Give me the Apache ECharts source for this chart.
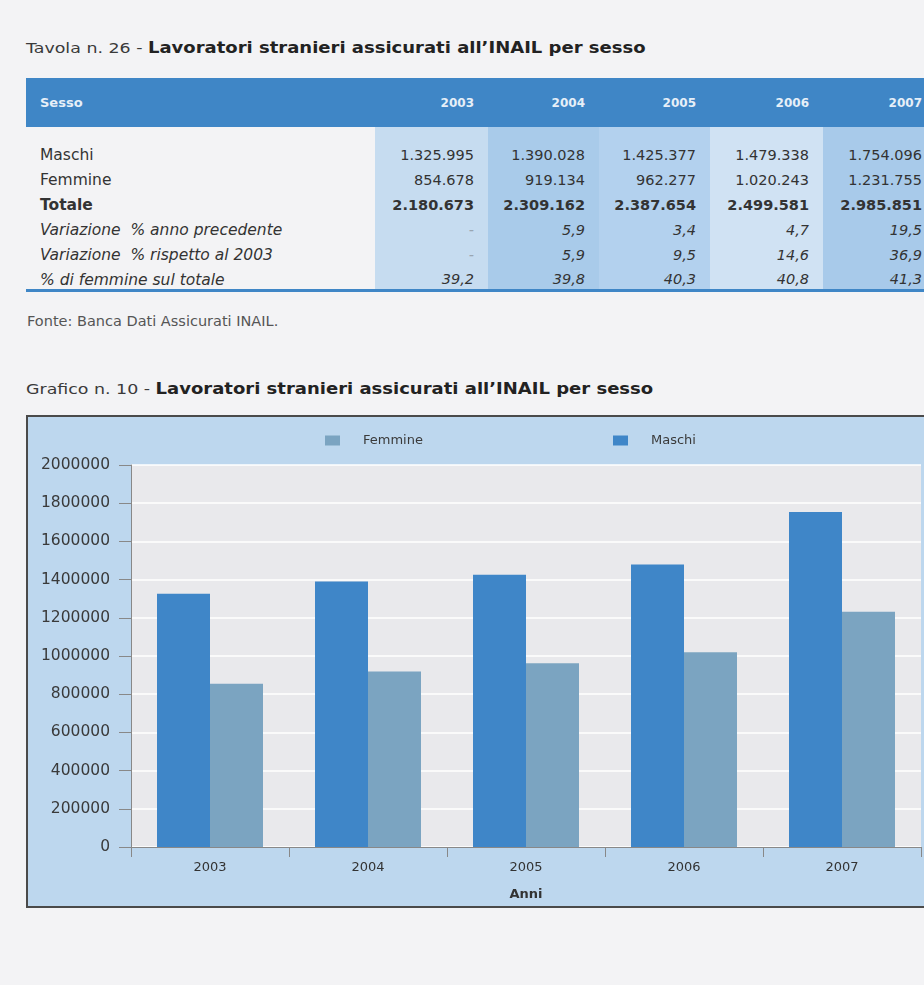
<!DOCTYPE html>
<html>
<head>
<meta charset="utf-8">
<script src="https://cdn.jsdelivr.net/npm/echarts@6/dist/echarts.min.js"></script>
<style>
  html, body { margin: 0; padding: 0; }
  body {
    width: 924px; height: 985px; overflow: hidden; position: relative;
    background: #f3f3f5; font-family: "DejaVu Sans", sans-serif; color: #333;
  }
  .title {
    position: absolute; left: 26px; font-size: 14.5px; color: #3a3a3a; white-space: nowrap;
    transform: scaleX(1.2); transform-origin: left center;
  }
  .title b { font-size: 15px; font-weight: bold; color: #222; }
  #tab {
    position: absolute; left: 26px; top: 78px; width: 910px;
    border-collapse: collapse; table-layout: fixed; font-size: 14.5px;
    border-bottom: 3px solid #3f86c6;
  }
  #tab th {
    height: 49px; padding: 0 14px 0 0; background: #3f86c6; color: #e6eff8;
    font-size: 12px; font-weight: bold; text-align: right;
  }
  #tab th:first-child { text-align: left; padding-left: 14px; font-size: 13px; }
  #tab td { height: 25px; padding: 0 14px 0 0; text-align: right; white-space: nowrap; }
  #tab td:first-child { text-align: left; padding-left: 14px; font-size: 15.5px; }
  #tab tr.spacer td { height: 15px; }
  #tab tr.last td { height: 18px; padding-top: 4px; vertical-align: top; }
  #tab .c0 { background: #c6dcf0; }
  #tab .c1 { background: #a9cbea; }
  #tab .c2 { background: #b3d1ee; }
  #tab .c3 { background: #d0e2f3; }
  #tab .c4 { background: #a8caea; }
  #tab .dash { color: #9aa6b2; }
  .fonte { position: absolute; left: 27px; top: 313px; font-size: 14.5px; color: #555; }
  #frame {
    position: absolute; left: 26px; top: 415px; width: 920px; height: 493px;
    box-sizing: border-box; border: 2px solid #4a4a4a; background: #bdd7ee;
  }
  #chart { width: 916px; height: 489px; }
</style>
</head>
<body>
<div class="title" style="top:39px">Tavola n. 26 - <b>Lavoratori stranieri assicurati all’INAIL per sesso</b></div>
<table id="tab"></table>
<div class="fonte">Fonte: Banca Dati Assicurati INAIL.</div>
<div class="title" style="top:380px">Grafico n. 10 - <b>Lavoratori stranieri assicurati all’INAIL per sesso</b></div>
<div id="frame"><div id="chart"></div></div>

<script>
// dati (Tavola n. 26)
const years = ['2003', '2004', '2005', '2006', '2007']
const maschi = [1325995, 1390028, 1425377, 1479338, 1754096]
const femmine = [854678, 919134, 962277, 1020243, 1231755]
const totale = [2180673, 2309162, 2387654, 2499581, 2985851]
const varAnnoPrec = [null, 5.9, 3.4, 4.7, 19.5]
const varRisp2003 = [null, 5.9, 9.5, 14.6, 36.9]
const pctFemmine = [39.2, 39.8, 40.3, 40.8, 41.3]

const fmtInt = v => String(v).replace(/\B(?=(\d{3})+(?!\d))/g, '.')
const fmtDec = v => v == null ? '<span class="dash">-</span>' : v.toFixed(1).replace('.', ',')

// tabella
const rows = [
  { label: 'Maschi', values: maschi.map(fmtInt), style: '' },
  { label: 'Femmine', values: femmine.map(fmtInt), style: '' },
  { label: 'Totale', values: totale.map(fmtInt), style: 'font-weight:bold' },
  { label: 'Variazione&nbsp; % anno precedente', values: varAnnoPrec.map(fmtDec), style: 'font-style:italic' },
  { label: 'Variazione&nbsp; % rispetto al 2003', values: varRisp2003.map(fmtDec), style: 'font-style:italic' },
  { label: '% di femmine sul totale', values: pctFemmine.map(fmtDec), style: 'font-style:italic' },
]

let html = '<colgroup><col style="width:349px">' +
  [113, 111, 111, 113, 113].map(w => `<col style="width:${w}px">`).join('') + '</colgroup>'
html += '<tr><th>Sesso</th>' + years.map(y => `<th>${y}</th>`).join('') + '</tr>'
html += '<tr class="spacer"><td></td>' + years.map((y, i) => `<td class="c${i}"></td>`).join('') + '</tr>'
rows.forEach((r, k) => {
  const cls = k === rows.length - 1 ? ' class="last"' : ''
  html += `<tr${cls} style="${r.style}"><td>${r.label}</td>` +
    r.values.map((v, i) => `<td class="c${i}">${v}</td>`).join('') + '</tr>'
})
document.getElementById('tab').innerHTML = html

// grafico
const chart = echarts.init(document.getElementById('chart'))

const option = {
  animation: false,
  backgroundColor: 'transparent',
  textStyle: { fontFamily: 'DejaVu Sans' },
  legend: [
    {
      data: ['Femmine'],
      left: 292, top: 12,
      icon: 'rect', itemWidth: 15, itemHeight: 10,
      textStyle: { fontSize: 13, color: '#3a3a3a', padding: [0, 0, 0, 18] },
    },
    {
      data: ['Maschi'],
      left: 580, top: 12,
      icon: 'rect', itemWidth: 15, itemHeight: 10,
      textStyle: { fontSize: 13, color: '#3a3a3a', padding: [0, 0, 0, 18] },
    },
  ],
  grid: {
    left: 103, right: 23, top: 48, bottom: 54,
    show: true, backgroundColor: '#e9e9ec', borderWidth: 0,
  },
  xAxis: {
    type: 'category',
    data: years,
    name: 'Anni',
    nameLocation: 'middle',
    nameGap: 41,
    nameTextStyle: { fontSize: 13, fontWeight: 'bold', color: '#333' },
    axisLine: { lineStyle: { color: '#888', width: 1 } },
    axisTick: { show: true, length: 10, lineStyle: { color: '#888' } },
    axisLabel: { fontSize: 13, color: '#333', margin: 14 },
  },
  yAxis: {
    type: 'value',
    min: 0, max: 2000000, interval: 200000,
    axisLine: { show: true, lineStyle: { color: '#888', width: 1 } },
    axisTick: { show: true, length: 12, lineStyle: { color: '#888' } },
    axisLabel: { fontSize: 15.5, color: '#3a3a3a', margin: 21, formatter: v => String(v) },
    splitLine: { lineStyle: { color: '#ffffff', width: 1.5 } },
  },
  series: [
    {
      name: 'Maschi',
      type: 'bar',
      data: maschi,
      barWidth: 53,
      barGap: '0%',
      itemStyle: { color: '#3f86c8' },
    },
    {
      name: 'Femmine',
      type: 'bar',
      data: femmine,
      barWidth: 53,
      itemStyle: { color: '#7ba4c1' },
    },
  ],
}

chart.setOption(option)
</script>
</body>
</html>
